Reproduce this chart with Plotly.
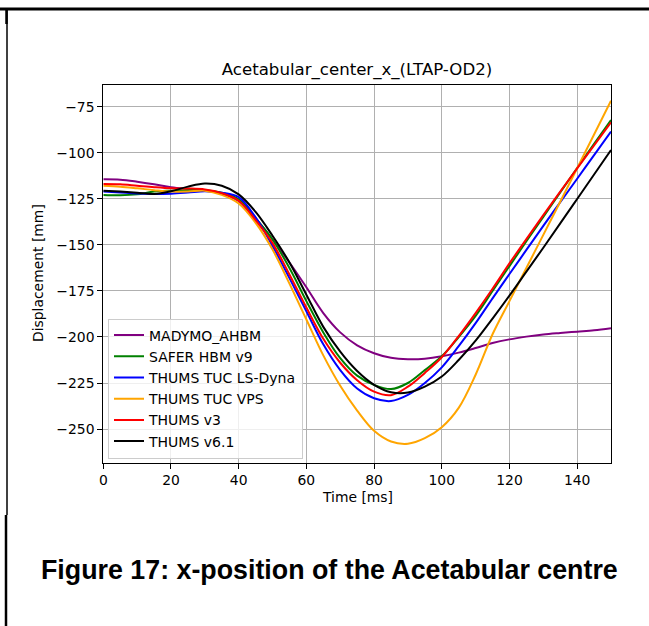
import plotly.graph_objects as go

W, H = 649, 626

time_ms = [0, 5, 10, 15, 20, 25, 30, 35, 40, 45, 50, 55, 60, 65, 70, 75, 80, 85, 90, 95,
           100, 105, 110, 115, 120, 125, 130, 135, 140, 145, 150]

madymo_ahbm = [-114.3, -114.5, -115.6, -117.0, -118.6, -119.5, -120.2, -122.0, -126.0, -135.5,
               -147.0, -159.5, -173.0, -187.0, -197.5, -204.5, -208.8, -211.3, -212.1, -211.8,
               -210.5, -208.5, -206.0, -203.3, -201.3, -199.8, -198.6, -197.8, -197.1, -196.4, -195.3]
safer_hbm_v9 = [-122.8, -123.0, -122.5, -121.0, -120.5, -120.2, -120.2, -121.6, -125.2, -135.5,
                -147.0, -162.5, -180.5, -197.5, -211.5, -221.0, -226.0, -228.3, -225.0, -218.0,
                -210.5, -200.0, -188.5, -175.0, -161.5, -148.0, -134.7, -121.4, -108.2, -95.1, -82.1]
thums_tuc_lsdyna = [-121.0, -121.5, -122.0, -122.3, -122.1, -121.5, -120.8, -121.6, -124.0, -135.0,
                    -150.5, -168.0, -186.0, -204.0, -218.0, -228.0, -233.3, -234.8, -231.5, -225.0,
                    -216.5, -205.0, -192.5, -179.0, -165.8, -152.7, -139.6, -126.8, -114.0, -101.2, -88.4]
thums_tuc_vps = [-117.8, -118.3, -119.2, -120.2, -121.0, -121.0, -120.5, -122.8, -127.5, -138.0,
                 -152.5, -171.0, -190.5, -210.0, -226.5, -240.0, -251.0, -256.8, -258.0, -255.0,
                 -249.0, -238.5, -220.5, -198.5, -180.5, -162.5, -144.5, -126.5, -108.3, -90.0, -71.6]
thums_v3 = [-116.8, -117.0, -117.8, -118.6, -119.2, -119.3, -119.8, -121.8, -126.0, -136.5,
            -149.0, -166.0, -184.0, -201.0, -214.0, -223.5, -229.7, -231.6, -227.0, -219.5,
            -211.0, -199.5, -187.0, -173.8, -160.0, -146.8, -133.8, -121.0, -108.4, -95.9, -83.3]
thums_v61 = [-120.5, -121.0, -121.6, -122.3, -120.8, -118.3, -116.6, -117.8, -122.5, -132.0,
             -145.0, -159.5, -177.0, -194.5, -208.0, -218.5, -226.0, -230.0, -230.2, -227.0,
             -221.5, -212.5, -202.0, -190.0, -177.5, -164.5, -151.5, -138.3, -125.0, -111.7, -98.4]

series = [
    ("MADYMO_AHBM", madymo_ahbm, "#800080"),
    ("SAFER HBM v9", safer_hbm_v9, "#008000"),
    ("THUMS TUC LS-Dyna", thums_tuc_lsdyna, "#0000ff"),
    ("THUMS TUC VPS", thums_tuc_vps, "#ffa500"),
    ("THUMS v3", thums_v3, "#ff0000"),
    ("THUMS v6.1", thums_v61, "#000000"),
]

x_ticks = [0, 20, 40, 60, 80, 100, 120, 140]
y_ticks = [-75, -100, -125, -150, -175, -200, -225, -250]

FONT = "DejaVu Sans"

fig = go.Figure()
for i, (name, vals, col) in enumerate(series):
    fig.add_trace(go.Scatter(
        x=time_ms, y=vals, name=name, mode="lines",
        line=dict(color=col, width=2, shape="spline", smoothing=1.0),
        legendgroup=f"g{i}",
    ))

def px(x):
    return x / W

def py(y):
    return 1 - y / H

x0, x1 = 103.3, 611.0
y0, y1 = 84.5, 462.5

axis_common = dict(
    showline=True, linecolor="black", linewidth=1, mirror=True,
    showgrid=True, gridcolor="#b0b0b0", gridwidth=0.8,
    ticks="outside", ticklen=5, tickwidth=1, tickcolor="black",
    tickfont=dict(family=FONT, size=13.9, color="black"),
    zeroline=False, automargin=False,
)

fig.update_layout(
    width=W, height=H,
    margin=dict(l=0, r=0, t=0, b=0, autoexpand=False),
    paper_bgcolor="white", plot_bgcolor="white",
    font=dict(family=FONT, color="black"),
    xaxis=dict(domain=[px(x0), px(x1)], range=[0, 150], tickvals=x_ticks, **axis_common),
    yaxis=dict(domain=[py(y1), py(y0)], range=[-268.2, -62.8], tickvals=y_ticks, **axis_common),
    showlegend=True,
    legend=dict(
        x=px(108), y=py(318.5), xanchor="left", yanchor="top",
        bgcolor="rgba(255,255,255,0.8)", bordercolor="#cccccc", borderwidth=1,
        font=dict(family=FONT, size=14, color="black"),
        traceorder="grouped", tracegroupgap=0,
    ),
    title=dict(text="Acetabular_center_x_(LTAP-OD2)", x=px(357), y=py(69),
               xanchor="center", yanchor="middle",
               font=dict(family=FONT, size=16.6, color="black")),
)

fig.add_annotation(text="Time [ms]", x=px(357), y=py(497), xref="paper", yref="paper",
                   showarrow=False, xanchor="center", yanchor="middle",
                   font=dict(family=FONT, size=13.9, color="black"))
fig.add_annotation(text="Displacement [mm]", x=px(38), y=py(273), xref="paper", yref="paper",
                   showarrow=False, xanchor="center", yanchor="middle", textangle=-90,
                   font=dict(family=FONT, size=13.9, color="black"))
fig.add_annotation(text="<b>Figure 17: x-position of the Acetabular centre</b>",
                   x=px(329), y=py(570), xref="paper", yref="paper",
                   showarrow=False, xanchor="center", yanchor="middle",
                   font=dict(family="Liberation Sans", size=26.8, color="black"))

# page border lines
fig.add_shape(type="line", xref="paper", yref="paper", x0=0, x1=1, y0=py(9), y1=py(9),
              line=dict(color="black", width=3))
fig.add_shape(type="line", xref="paper", yref="paper", x0=px(7), x1=px(7), y0=py(9), y1=py(515),
              line=dict(color="black", width=1.5))
fig.add_shape(type="line", xref="paper", yref="paper", x0=px(6.5), x1=px(6.5), y0=py(9), y1=py(24),
              line=dict(color="black", width=2.5))
fig.add_shape(type="line", xref="paper", yref="paper", x0=px(6), x1=px(6), y0=py(515), y1=0,
              line=dict(color="black", width=2.5))

fig.write_html("out.html")
